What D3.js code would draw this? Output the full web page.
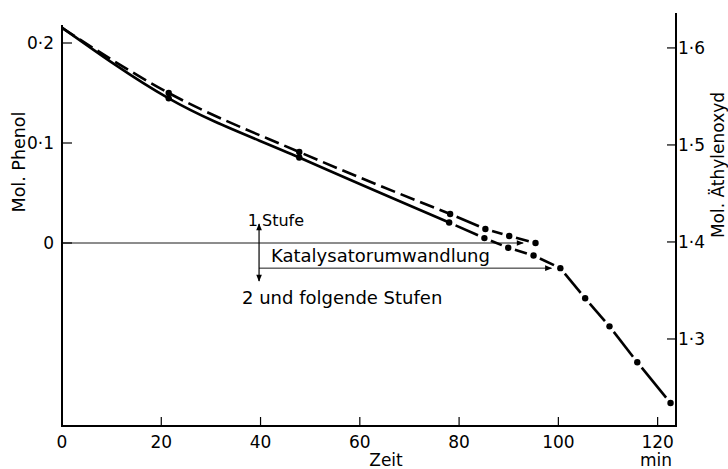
<!DOCTYPE html>
<html>
<head>
<meta charset="utf-8">
<script src="https://cdn.jsdelivr.net/npm/d3@7"></script>
<style>
  body { margin: 0; background: #fff; }
  svg { display: block; font-family: "DejaVu Sans", sans-serif; }
  .tick-label { font-size: 17px; fill: #000; }
</style>
</head>
<body>
<svg id="chart" width="728" height="469"></svg>
<script>
// time axis (min)
var timeTicks = [0, 20, 40, 60, 80, 100, 120];
var phenolTicks = [0, 0.1, 0.2];
var phenolTickLabels = ["0", "0\u00b71", "0\u00b72"];
var oxideTicks = [1.3, 1.4, 1.5, 1.6];
var oxideTickLabels = ["1\u00b73", "1\u00b74", "1\u00b75", "1\u00b76"];

// Mol. Phenol (dashed, left axis)
var phenolTime = [0, 21.5, 47.8, 78.2, 85.3, 90.1, 95.4];
var phenolMol  = [0.215, 0.150, 0.091, 0.029, 0.014, 0.007, 0.0];

// Mol. Äthylenoxyd (solid then dash-dot, right axis)
var oxideTime = [0, 21.5, 47.8, 78.0, 85.1, 89.9, 95.0, 100.4, 105.4, 110.3, 115.9, 122.6];
var oxideMol  = [1.621, 1.548, 1.487, 1.420, 1.404, 1.394, 1.386, 1.373, 1.342, 1.313, 1.276, 1.234];

var svg = d3.select("#chart");

var x = d3.scaleLinear().domain([0, 123.7]).range([62, 676]);
var yL = d3.scaleLinear().domain([-0.183, 0.218]).range([426, 25]);
var yR = d3.scaleLinear().domain([1.2103, 1.636]).range([426, 13]);

var defs = svg.append("defs");
defs.append("marker")
  .attr("id", "arr")
  .attr("viewBox", "0 0 10 10")
  .attr("refX", 9).attr("refY", 5)
  .attr("markerWidth", 9).attr("markerHeight", 7)
  .attr("markerUnits", "userSpaceOnUse")
  .attr("orient", "auto-start-reverse")
  .append("path").attr("d", "M0,1L10,5L0,9Z").attr("fill", "#000");

// axes
svg.append("line").attr("x1", x(0)).attr("x2", x(0)).attr("y1", 25).attr("y2", 427)
  .attr("stroke", "#000").attr("stroke-width", 2);
svg.append("line").attr("x1", 676).attr("x2", 676).attr("y1", 13).attr("y2", 427)
  .attr("stroke", "#000").attr("stroke-width", 2);
svg.append("line").attr("x1", 61).attr("x2", 677).attr("y1", 426).attr("y2", 426)
  .attr("stroke", "#000").attr("stroke-width", 2);

// bottom ticks
timeTicks.forEach(function(t) {
  if (t > 0) svg.append("line").attr("x1", x(t)).attr("x2", x(t)).attr("y1", 426).attr("y2", 417)
    .attr("stroke", "#000").attr("stroke-width", 1.2);
  svg.append("text").attr("class", "tick-label").attr("x", x(t)).attr("y", 448)
    .attr("text-anchor", "middle").text(t);
});

// left ticks
phenolTicks.forEach(function(v, i) {
  svg.append("line").attr("x1", 62).attr("x2", 72).attr("y1", yL(v)).attr("y2", yL(v))
    .attr("stroke", "#000").attr("stroke-width", 1.2);
  svg.append("text").attr("class", "tick-label").attr("x", 54).attr("y", yL(v) + 6)
    .attr("text-anchor", "end").text(phenolTickLabels[i]);
});

// right ticks
oxideTicks.forEach(function(v, i) {
  svg.append("line").attr("x1", 667).attr("x2", 676).attr("y1", yR(v)).attr("y2", yR(v))
    .attr("stroke", "#000").attr("stroke-width", 1.2);
  svg.append("text").attr("class", "tick-label").attr("x", 678).attr("y", yR(v) + 6)
    .attr("text-anchor", "start").text(oxideTickLabels[i]);
});

// axis titles
svg.append("text").attr("transform", "translate(25,162) rotate(-90)")
  .attr("text-anchor", "middle").attr("font-size", 17.5).text("Mol. Phenol");
svg.append("text").attr("transform", "translate(724,165) rotate(-90)")
  .attr("text-anchor", "middle").attr("font-size", 17).text("Mol. \u00c4thylenoxyd");
svg.append("text").attr("x", 386).attr("y", 466).attr("text-anchor", "middle")
  .attr("font-size", 17).text("Zeit");
svg.append("text").attr("x", 656).attr("y", 466).attr("text-anchor", "middle")
  .attr("font-size", 17).text("min");

// annotation: zero line, arrows, labels
var tArrow = 39.7;
svg.append("line").attr("x1", x(0)).attr("x2", x(92.9)).attr("y1", yL(0)).attr("y2", yL(0))
  .attr("stroke", "#000").attr("stroke-width", 0.9).attr("marker-end", "url(#arr)");
svg.append("line").attr("x1", x(tArrow)).attr("x2", x(98.6)).attr("y1", yR(1.373)).attr("y2", yR(1.373))
  .attr("stroke", "#000").attr("stroke-width", 0.9).attr("marker-end", "url(#arr)");
svg.append("line").attr("x1", x(tArrow)).attr("x2", x(tArrow)).attr("y1", yL(0.019)).attr("y2", yL(-0.038))
  .attr("stroke", "#000").attr("stroke-width", 1.2)
  .attr("marker-start", "url(#arr)").attr("marker-end", "url(#arr)");
svg.append("text").attr("x", x(tArrow) - 1).attr("y", 226).attr("text-anchor", "end")
  .attr("font-size", 16).text("1");
svg.append("text").attr("x", x(tArrow) + 3).attr("y", 226)
  .attr("font-size", 16).text("Stufe");
svg.append("text").attr("x", 271).attr("y", 262).attr("font-size", 18).text("Katalysatorumwandlung");
svg.append("text").attr("x", 242).attr("y", 304).attr("font-size", 18).text("2 und folgende Stufen");

// series
function pts(ts, vs, y) { return ts.map(function(t, i) { return [x(t), y(vs[i])]; }); }
var pP = pts(phenolTime, phenolMol, yL);
var pO = pts(oxideTime, oxideMol, yR);
var curve = d3.line().curve(d3.curveMonotoneX);

function gapSegments(p, gap) {
  var out = [];
  for (var i = 0; i < p.length - 1; i++) {
    var a = p[i], b = p[i + 1];
    var dx = b[0] - a[0], dy = b[1] - a[1], L = Math.sqrt(dx * dx + dy * dy);
    var ux = dx / L, uy = dy / L;
    out.push([[a[0] + ux * gap, a[1] + uy * gap], [b[0] - ux * gap, b[1] - uy * gap]]);
  }
  return out;
}

var g = svg.append("g").attr("fill", "none").attr("stroke", "#000").attr("stroke-width", 2.6);
// phenol: dashed
g.append("path").attr("d", curve(pP.slice(0, 4))).attr("stroke-dasharray", "15,6");
gapSegments(pP.slice(3), 7).forEach(function(s) {
  g.append("path").attr("d", d3.line()(s));
});
// äthylenoxyd: solid then dash-dot
g.append("path").attr("d", curve(pO.slice(0, 4)));
gapSegments(pO.slice(3), 7).forEach(function(s) {
  g.append("path").attr("d", d3.line()(s));
});

// markers
svg.append("g").selectAll("circle").data(pP.slice(1).concat(pO.slice(1)))
  .enter().append("circle")
  .attr("cx", function(d) { return d[0]; })
  .attr("cy", function(d) { return d[1]; })
  .attr("r", 3.2).attr("fill", "#000");
</script>
</body>
</html>
